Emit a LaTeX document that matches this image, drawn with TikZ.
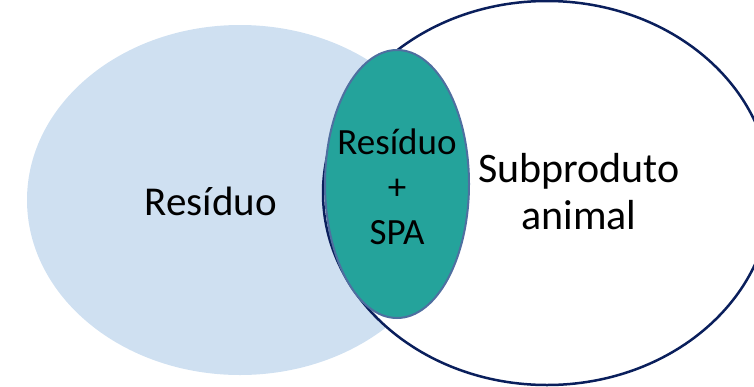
\documentclass[tikz,border=0pt]{standalone}
\usepackage{fontspec}
\setmainfont{Carlito}
\usetikzlibrary{shapes.geometric}
\definecolor{residuofill}{HTML}{CFE0F1}
\definecolor{spafill}{HTML}{24A39B}
\definecolor{spaborder}{HTML}{4F6FA0}
\definecolor{subborder}{HTML}{0A1F5C}

\begin{document}
\begin{tikzpicture}[
    x=1pt,y=-1pt,
    set/.style={ellipse,inner sep=0pt},
    settext/.style={align=center,inner sep=0pt,text=black},
  ]
  \useasboundingbox (0,0) rectangle (754,386);
  \clip (0,0) rectangle (754,386);
  % the three sets
  \node[set,fill=residuofill,minimum width=426pt,minimum height=350pt] (res) at (240,200) {};
  \node[set,fill=white,draw=subborder,line width=2.5pt,minimum width=448pt,minimum height=384pt] (sub) at (547,193) {};
  \node[set,fill=spafill,draw=spaborder,line width=2pt,minimum width=144pt,minimum height=268pt] (spa) at (397,184) {};
  % labels
  \node[settext,font=\fontsize{41}{45}\selectfont] (restext) at (211,201) {Resíduo};
  \node[settext,font=\fontsize{37}{45}\selectfont] (spatext) at (397,187) {Resíduo\\+\\SPA};
  \node[settext,font=\fontsize{42}{47}\selectfont] (subtext) at (579,192) {Subproduto\\animal};
\end{tikzpicture}
\end{document}
